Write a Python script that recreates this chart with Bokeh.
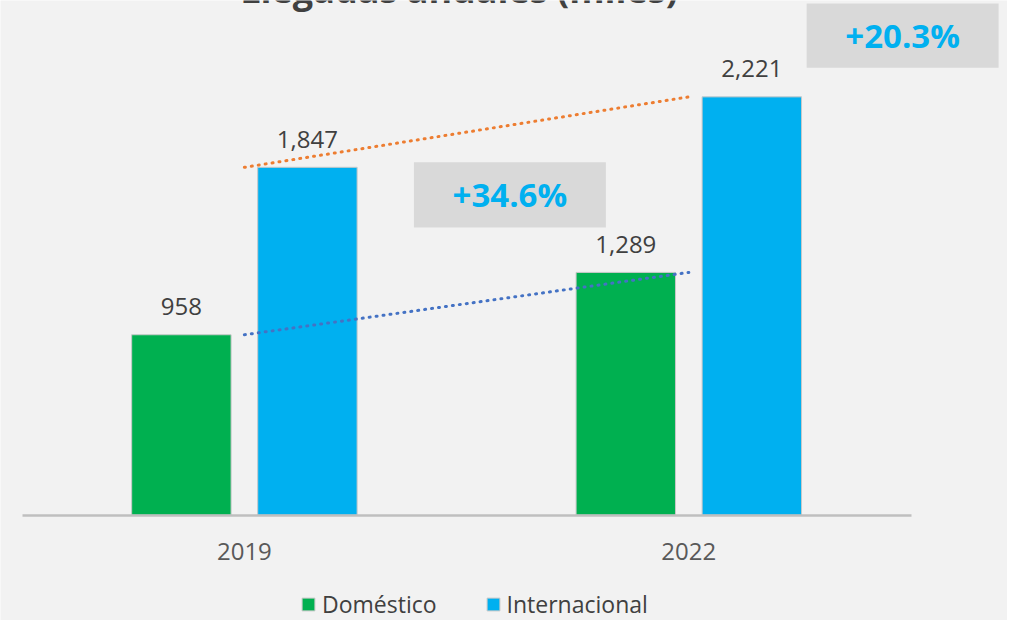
from bokeh.plotting import figure
from bokeh.models import (ColumnDataSource, Legend, LegendItem, Label, BoxAnnotation,
                          Range1d, FixedTicker)
from bokeh.transform import dodge
from bokeh.core.properties import value
from bokeh.embed import file_html
from bokeh.resources import INLINE

# ---- data ----
title_text = "Llegadas anuales (miles)"
years = ["2019", "2022"]
domestico = [958, 1289]
internacional = [1847, 2221]
series_names = ["Doméstico", "Internacional"]
growth_labels = ["+34.6%", "+20.3%"]   # Doméstico, Internacional

# category centres on the x scale (one unit per category)
xpos = [i + 0.5 for i in range(len(years))]
dom_lbl = [f"{v:,}" for v in domestico]
int_lbl = [f"{v:,}" for v in internacional]

BG = "#f2f2f2"
GREEN = "#00b050"
BLUE = "#00b0f0"
FONT = "Open Sans"

src = ColumnDataSource(dict(x=xpos, dom=domestico, intl=internacional,
                            dom_lbl=dom_lbl, int_lbl=int_lbl))

p = figure(x_range=Range1d(-0.0488, len(years) + 0.2171), y_range=Range1d(-559, 2732.6),
           width=1007, height=620, output_backend="svg", toolbar_location=None,
           y_axis_location=None, min_border=0)
p.background_fill_color = BG
p.border_fill_color = BG
p.outline_line_color = None
p.xgrid.grid_line_color = None
p.ygrid.grid_line_color = None

off = 0.1418
bw = 0.2237
r_dom = p.vbar(x=dodge("x", -off), top="dom", width=bw, source=src,
               fill_color=GREEN, line_color="#c8c8c8", line_width=1)
r_int = p.vbar(x=dodge("x", off), top="intl", width=bw, source=src,
               fill_color=BLUE, line_color="#c8c8c8", line_width=1)

for col, lbl, dx in (("dom", "dom_lbl", -off), ("intl", "int_lbl", off)):
    p.text(x=dodge("x", dx), y=col, text=lbl, source=src,
           text_align="center", text_baseline="alphabetic", y_offset=-28,
           text_font=value(FONT), text_font_size="24px", text_color="#404040")

# trend lines
p.line(x="x", y="intl", source=src, line_color="#ed7d31", line_width=3,
       line_dash="1 6", line_cap="round")
p.line(x="x", y="dom", source=src, line_color="#4472c4", line_width=3,
       line_dash="1 6", line_cap="round")

# growth boxes
for (l, r, b, t), txt in (((0.8815, 1.3134, 1527, 1874), growth_labels[0]),
                          ((1.7652, 2.1971, 2376, 2717), growth_labels[1])):
    p.add_layout(BoxAnnotation(left=l, right=r, bottom=b, top=t,
                               fill_color="#d9d9d9", fill_alpha=1, line_color=None))
    p.add_layout(Label(x=(l + r) / 2, y=(b + t) / 2, text=txt, text_align="center",
                       text_baseline="middle", text_font=FONT, text_font_style="bold",
                       text_font_size="33px", text_color=BLUE))

# title (cut off at the top like the reference)
p.add_layout(Label(x=0.983, y=2790, text=title_text, text_align="center",
                   text_baseline="alphabetic", text_font=FONT, text_font_style="bold",
                   text_font_size="36px", text_color="#404040"))

# axis drawn at y = 0 inside the frame
ax = p.xaxis[0]
ax.fixed_location = 0
ax.ticker = FixedTicker(ticks=xpos)
ax.major_label_overrides = {x: y for x, y in zip(xpos, years)}
ax.bounds = (0, len(years))
ax.axis_line_color = "#bfbfbf"
ax.axis_line_width = 2.5
ax.major_tick_line_color = None
ax.minor_tick_line_color = None
ax.major_label_standoff = 22
ax.major_label_text_font = FONT
ax.major_label_text_font_size = "24px"
ax.major_label_text_color = "#595959"

legend = Legend(items=[LegendItem(label=series_names[0], renderers=[r_dom]),
                       LegendItem(label=series_names[1], renderers=[r_int])],
                location=(300, 0), orientation="horizontal",
                background_fill_alpha=0, border_line_color=None,
                label_text_font=FONT, label_text_font_size="23px",
                label_text_color="#404040", glyph_width=16, glyph_height=16,
                label_standoff=6, spacing=48, padding=0, margin=0)
p.add_layout(legend)

open("out.html", "w").write(file_html(p, INLINE))
